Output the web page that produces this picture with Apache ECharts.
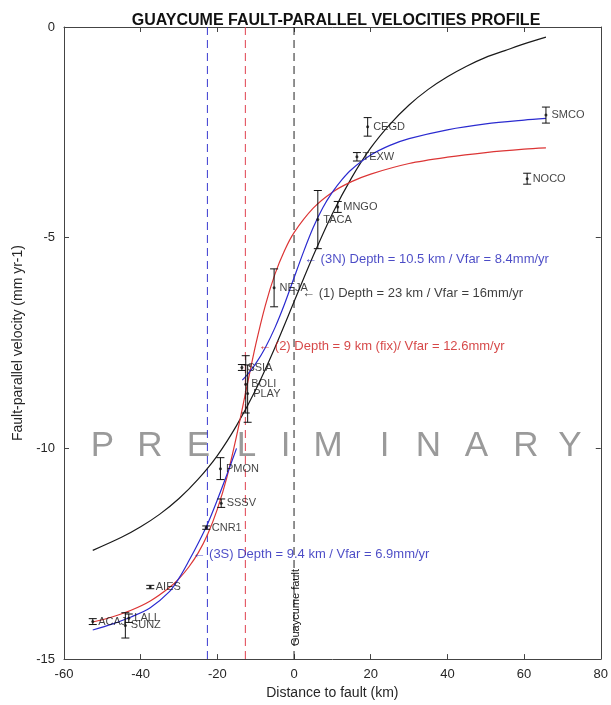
<!DOCTYPE html>
<html>
<head>
<meta charset="utf-8">
<script src="https://cdn.jsdelivr.net/npm/echarts@6/dist/echarts.min.js"></script>
<style>
  html, body { margin: 0; padding: 0; background: #fff; }
  #chart { width: 611px; height: 705px; }
</style>
</head>
<body>
<div id="chart"></div>
<script>
// GPS stations (distance to fault km, fault-parallel velocity mm/yr, error)
var stationNames = ['SMCO', 'CEGD', 'TEXW', 'NOCO', 'MNGO', 'TACA', 'NEJA', 'SSIA', 'BOLI', 'PLAY', 'PMON', 'SSSV', 'CNR1', 'AIES', 'ACAJ', 'LALI', 'SUNZ']
var stationDist = [65.7, 19.2, 16.4, 60.8, 11.4, 6.2, -5.2, -13.6, -12.6, -12.1, -19.2, -19.0, -22.9, -37.5, -52.5, -43.1, -44.0]
var stationVel = [-2.09, -2.37, -3.08, -3.60, -4.27, -4.57, -6.19, -8.08, -8.48, -8.70, -10.48, -11.30, -11.88, -13.29, -14.11, -14.03, -14.20]
var stationErr = [0.19, 0.22, 0.10, 0.13, 0.13, 0.69, 0.45, 0.07, 0.68, 0.68, 0.26, 0.10, 0.04, 0.04, 0.07, 0.10, 0.30]

// model (1) Depth 23 km / Vfar 16
var blackX = [-52.5, -45, -40, -35, -30, -25, -20, -15, -10, -5, 0, 5, 10, 15, 20, 25, 30, 35, 40, 45, 50, 55, 60, 65.7]
var blackV = [-12.42, -12.11, -11.86, -11.56, -11.19, -10.73, -10.17, -9.46, -8.61, -7.61, -6.52, -5.43, -4.43, -3.58, -2.87, -2.31, -1.85, -1.48, -1.18, -0.93, -0.72, -0.56, -0.40, -0.24]
// model (2) Depth 9 km (fix) / Vfar 12.6
var redX = [-52.5, -47.5, -42.5, -37.5, -32.5, -30, -27.5, -25, -22.5, -20, -17.5, -15, -12.5, -10, -7.5, -5, -2.5, 0, 5, 10, 15, 20, 30, 40, 50, 60, 65.7]
var redV = [-14.12, -14.00, -13.84, -13.62, -13.30, -13.09, -12.82, -12.48, -12.03, -11.44, -10.68, -9.71, -8.62, -7.54, -6.61, -5.87, -5.31, -4.88, -4.30, -3.92, -3.67, -3.49, -3.24, -3.09, -2.98, -2.90, -2.87]
// model (3N) and (3S)
var blue3nX = [-13.5, -12, -10, -7.5, -5, -2.5, 0, 2.5, 5, 7.5, 10, 12.5, 15, 20, 25, 30, 40, 50, 60, 65.7]
var blue3nV = [-8.38, -8.23, -7.99, -7.61, -7.14, -6.58, -5.95, -5.33, -4.76, -4.29, -3.92, -3.62, -3.38, -3.04, -2.81, -2.65, -2.44, -2.30, -2.21, -2.17]
var blue3sX = [-52.5, -47.5, -42.5, -37.5, -32.5, -30, -27.5, -25, -22.5, -20, -17.5, -15]
var blue3sV = [-14.31, -14.17, -14.00, -13.78, -13.40, -13.08, -12.68, -12.25, -11.78, -11.22, -10.62, -10.00]

// fault traces (3S, 2, Guaycume)
var faultX = [-22.6, -12.7, 0]
var faultColors = ['#3a3ad0', '#e0404f', '#222222']

var notes = [
  { text: '\u2190 (3N) Depth = 10.5 km / Vfar = 8.4mm/yr', color: '#1e1eb8', at: [2.6, -5.52] },
  { text: '\u2190 (1) Depth = 23 km / Vfar = 16mm/yr', color: '#0d0d0d', at: [2.1, -6.33] },
  { text: '\u2190 (2) Depth = 9 km (fix)/ Vfar = 12.6mm/yr', color: '#cc1a1a', at: [-9.35, -7.58] },
  { text: '\u2190 (3S) Depth = 9.4 km / Vfar = 6.9mm/yr', color: '#1e1eb8', at: [-26.5, -12.51] }
]

var wmLetters = ['P', 'R', 'E', 'L', 'I', 'M', 'I', 'N', 'A', 'R', 'Y']
var wmCenters = [102.5, 150, 198.5, 246.5, 285.5, 328, 384.5, 428.5, 476.5, 526, 570]

var font = 'Liberation Sans, Arial, sans-serif'

function zip(xs, ys) {
  return xs.map(function (x, i) { return [x, ys[i]] })
}

var stationData = stationNames.map(function (n, i) {
  return { name: n, value: [stationDist[i], stationVel[i]] }
})
var errData = stationNames.map(function (n, i) {
  return [stationDist[i], stationVel[i], stationErr[i]]
})

function renderErr(params, api) {
  var x = api.value(0)
  var y = api.value(1)
  var e = api.value(2)
  var top = api.coord([x, y + e])
  var bot = api.coord([x, y - e])
  var w = 4
  var st = { stroke: '#111', lineWidth: 1 }
  return {
    type: 'group',
    children: [
      { type: 'line', shape: { x1: top[0], y1: top[1], x2: bot[0], y2: bot[1] }, style: st },
      { type: 'line', shape: { x1: top[0] - w, y1: top[1], x2: top[0] + w, y2: top[1] }, style: st },
      { type: 'line', shape: { x1: bot[0] - w, y1: bot[1], x2: bot[0] + w, y2: bot[1] }, style: st }
    ]
  }
}

function curve(name, xs, ys, color) {
  return {
    name: name,
    type: 'line',
    data: zip(xs, ys),
    smooth: 0.3,
    showSymbol: false,
    symbol: 'none',
    lineStyle: { color: color, width: 1.2 },
    z: 3
  }
}

var faultSeries = faultX.map(function (fx, i) {
  return {
    name: 'fault' + i,
    type: 'line',
    data: [[fx, 0], [fx, -15]],
    showSymbol: false,
    symbol: 'none',
    lineStyle: { color: faultColors[i], width: 1, type: [8, 5] },
    z: 2
  }
})

var axisLine = { show: true, onZero: false, lineStyle: { color: '#444', width: 1 } }
var tickStyle = { show: true, inside: true, length: 5, lineStyle: { color: '#444' } }
var labelStyle = { color: '#262626', fontSize: 13, fontFamily: font }

var chart = echarts.init(document.getElementById('chart'))
var option = {
  animation: false,
  backgroundColor: '#fff',
  title: {
    text: 'GUAYCUME FAULT-PARALLEL VELOCITIES PROFILE',
    left: 331,
    top: 8,
    textAlign: 'center',
    textStyle: { fontSize: 16, fontWeight: 'bold', color: '#111', fontFamily: font }
  },
  grid: { left: 64, right: 8, top: 27, bottom: 45 },
  xAxis: [{
    type: 'value', min: -60, max: 80, interval: 20,
    name: 'Distance to fault (km)', nameLocation: 'middle', nameGap: 26,
    nameTextStyle: { fontSize: 14, color: '#262626', fontFamily: font },
    axisLine: axisLine, axisTick: tickStyle, axisLabel: Object.assign({ margin: 9 }, labelStyle),
    splitLine: { show: false }
  }, {
    type: 'value', min: -60, max: 80, interval: 20, position: 'top',
    axisLine: axisLine, axisTick: tickStyle, axisLabel: { show: false }, splitLine: { show: false }
  }],
  yAxis: [{
    type: 'value', min: -15, max: 0, interval: 5,
    name: 'Fault-parallel velocity (mm yr-1)', nameLocation: 'middle', nameGap: 30,
    nameTextStyle: { fontSize: 14, color: '#262626', fontFamily: font },
    axisLine: axisLine, axisTick: tickStyle, axisLabel: Object.assign({ margin: 9 }, labelStyle),
    splitLine: { show: false }
  }, {
    type: 'value', min: -15, max: 0, interval: 5, position: 'right',
    axisLine: axisLine, axisTick: tickStyle, axisLabel: { show: false }, splitLine: { show: false }
  }],
  series: faultSeries.concat([
    curve('(1)', blackX, blackV, '#1a1a1a'),
    curve('(2)', redX, redV, '#dc3535'),
    curve('(3N)', blue3nX, blue3nV, '#2b2bd0'),
    curve('(3S)', blue3sX, blue3sV, '#2b2bd0'),
    {
      name: 'err',
      type: 'custom',
      renderItem: renderErr,
      data: errData,
      encode: { x: 0, y: 1 },
      z: 4
    },
    {
      name: 'stations',
      type: 'scatter',
      data: stationData,
      symbolSize: 3,
      itemStyle: { color: '#111' },
      label: {
        show: true, position: 'right', distance: 4, formatter: '{b}',
        color: '#111', fontSize: 11, fontFamily: font
      },
      z: 5
    },
    {
      name: 'notes',
      type: 'scatter',
      symbolSize: 0,
      data: notes.map(function (n) {
        return { name: n.text, value: n.at, label: { color: n.color } }
      }),
      label: {
        show: true, position: 'right', distance: 0, formatter: '{b}',
        fontSize: 13, fontFamily: font
      },
      z: 6
    }
  ])
}
chart.setOption(option)

var faultPx = chart.convertToPixel({ gridIndex: 0 }, [0, -15])
var graphics = wmLetters.map(function (ch, i) {
  return {
    type: 'text', x: wmCenters[i], y: 446, z: 1,
    style: { text: ch, fill: '#9a9a9a', fontSize: 35, fontFamily: font, align: 'center', verticalAlign: 'middle' }
  }
})
graphics.push({
  type: 'text', x: faultPx[0] + 2, y: faultPx[1] - 13, rotation: Math.PI / 2, z: 10,
  style: { text: 'Guaycume fault', fill: '#111', fontSize: 11, fontFamily: font, align: 'left', verticalAlign: 'middle' }
})
chart.setOption({ graphic: graphics })
</script>
</body>
</html>
